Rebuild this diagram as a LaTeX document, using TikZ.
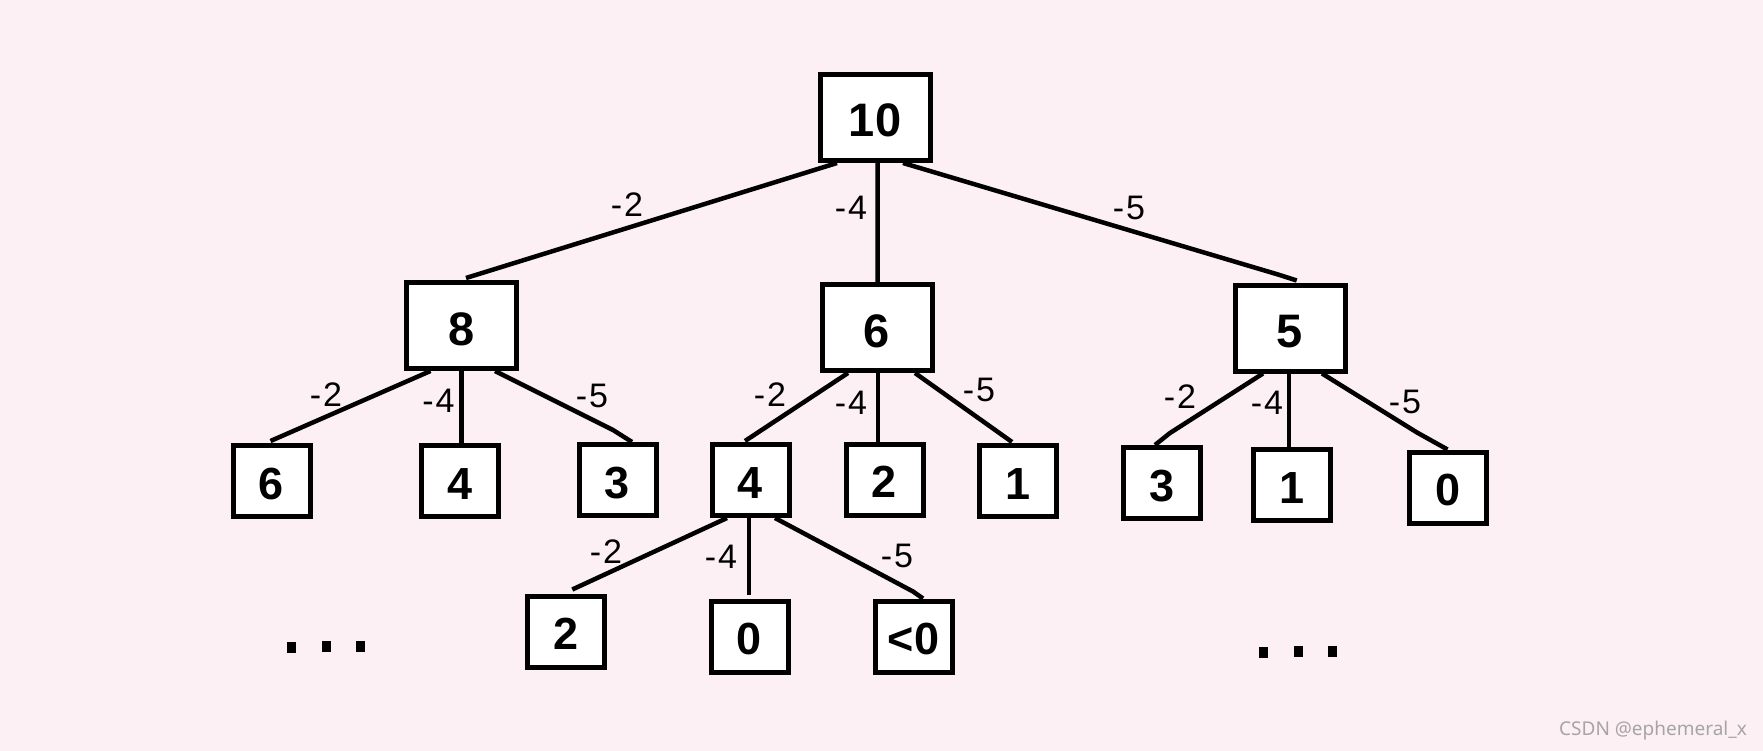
\documentclass[tikz,border=0pt]{standalone}
\usepackage{fontspec}
\setmainfont{Liberation Sans}
\newfontfamily\wmfont{Noto Sans}
\definecolor{bgpink}{RGB}{253,240,244}
\definecolor{wmgray}{RGB}{165,165,165}
\pgfdeclarelayer{bg}
\pgfdeclarelayer{edges}
\pgfsetlayers{bg,edges,main}
\begin{document}
\begin{tikzpicture}[x=1pt,y=-1pt,
  bigbox/.style={draw=black, line width=5pt, fill=white, minimum width=110pt, minimum height=86pt, inner sep=0pt, text height=39pt, text depth=0pt, font=\bfseries\fontsize{47}{50}\selectfont},
  smallbox/.style={draw=black, line width=5pt, fill=white, minimum width=77pt, minimum height=71pt, inner sep=0pt, text height=36pt, text depth=0pt, font=\bfseries\fontsize{45}{48}\selectfont},
  edge/.style={line width=4.5pt, line join=round},
  elabel/.style={font=\fontsize{34}{36}\selectfont, inner sep=0pt},
  dotsq/.style={fill=black, draw=none, minimum width=9pt, minimum height=11pt, inner sep=0pt}]
\begin{pgfonlayer}{bg}
\useasboundingbox (0,0) rectangle (1763,751);
\fill[bgpink] (0,0) rectangle (1763,751);
\end{pgfonlayer}

% nodes
\node[bigbox] (r) at (875,117.5) {10};
\node[bigbox] (a) at (461.5,325.5) {8};
\node[bigbox] (b) at (877,327.5) {6};
\node[bigbox] (c) at (1290,328) {5};

\node[smallbox] (a1) at (271.5,481) {6};
\node[smallbox] (a2) at (460,481) {4};
\node[smallbox] (a3) at (617.5,480) {3};
\node[smallbox] (b1) at (750.5,480) {4};
\node[smallbox] (b2) at (884.5,479.5) {2};
\node[smallbox] (b3) at (1018,481) {1};
\node[smallbox] (c1) at (1162,483) {3};
\node[smallbox] (c2) at (1291.5,485) {1};
\node[smallbox] (c3) at (1447.5,487.5) {0};
\node[smallbox] (d1) at (566.3,631.5) {2};
\node[smallbox] (d2) at (749.5,636.5) {0};
\node[smallbox] (d3) at (913.5,636.5) {<0};

% connectors
\begin{pgfonlayer}{edges}
\draw[edge] ([xshift=-38pt]r.south) -- ([xshift=4.5pt,yshift=2pt]a.north);
\draw[edge] ([xshift=2.5pt]r.south) -- ([xshift=0.7pt]b.north);
\draw[edge] ([xshift=28pt]r.south) -- ([xshift=-12pt,yshift=8pt]c.north) -- ([xshift=6.7pt,yshift=2pt]c.north);

\draw[edge] ([xshift=-31pt]a.south) -- ([xshift=-1pt,yshift=2pt]a1.north);
\draw[edge] (a.south) -- (a.south |- a2.north);
\draw[edge] ([xshift=33.5pt]a.south) -- ([xshift=-4.5pt,yshift=12pt]a3.north) -- ([xshift=14.5pt]a3.north);

\draw[edge] ([xshift=-29pt]b.south) -- ([xshift=-5.5pt,yshift=1pt]b1.north);
\draw[edge] ([xshift=1pt]b.south) -- ([xshift=1pt]b.south |- b2.north);
\draw[edge] ([xshift=38pt]b.south) -- ([xshift=-6pt,yshift=1pt]b3.north);

\draw[edge] ([xshift=-27pt]c.south) -- ([xshift=8pt,yshift=12pt]c1.north) -- ([xshift=-7pt]c1.north);
\draw[edge] ([xshift=-1pt]c.south) -- ([xshift=-1pt]c.south |- c2.north);
\draw[edge] ([xshift=32pt]c.south) -- ([xshift=-30.5pt,yshift=17pt]c3.north) -- (c3.north);

\draw[edge] ([xshift=-23.5pt]b1.south) -- ([xshift=6pt,yshift=4pt]d1.north);
\draw[edge] ([xshift=-1.5pt]b1.south) -- ([xshift=-1.5pt,yshift=4pt]b1.south |- d2.north);
\draw[edge] ([xshift=24.5pt]b1.south) -- ([xshift=-0.5pt,yshift=7pt]d3.north) -- ([xshift=9.5pt]d3.north);
\end{pgfonlayer}

% edge labels
\node[elabel] (l1) at (627,205) {-\kern2pt2};
\node[elabel] (l2) at (851,208) {-\kern2pt4};
\node[elabel] (l3) at (1129,207.5) {-\kern2pt5};
\node[elabel] (l4) at (326,395) {-\kern2pt2};
\node[elabel] (l5) at (438.5,401) {-\kern2pt4};
\node[elabel] (l6) at (592,396) {-\kern2pt5};
\node[elabel] (l7) at (770,395) {-\kern2pt2};
\node[elabel] (l8) at (851,402.5) {-\kern2pt4};
\node[elabel] (l9) at (979,390) {-\kern2pt5};
\node[elabel] (l10) at (1180,397) {-\kern2pt2};
\node[elabel] (l11) at (1267,403) {-\kern2pt4};
\node[elabel] (l12) at (1405,402) {-\kern2pt5};
\node[elabel] (l13) at (606,552) {-\kern2pt2};
\node[elabel] (l14) at (721,557) {-\kern2pt4};
\node[elabel] (l15) at (897,556) {-\kern2pt5};

% ellipses
\node[dotsq] (p1) at (291.5,647.5) {};
\node[dotsq] (p2) at (326.5,646.5) {};
\node[dotsq] (p3) at (360.5,646.5) {};
\node[dotsq] (q1) at (1263.5,652.5) {};
\node[dotsq] (q2) at (1298.5,651.5) {};
\node[dotsq] (q3) at (1332.5,651.5) {};

% watermark
\node[anchor=east, inner sep=0pt, text=wmgray, font=\wmfont\fontsize{19}{21}\selectfont] (wm) at (1747,731) {CSDN @ephemeral\_x};
\end{tikzpicture}
\end{document}
